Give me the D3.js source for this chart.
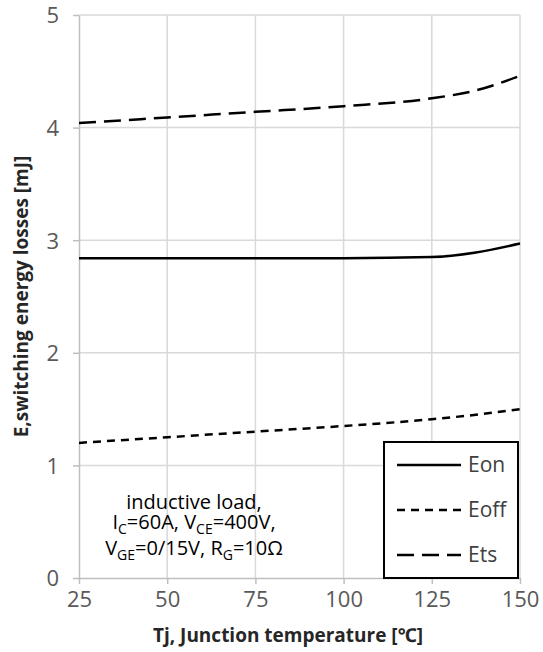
<!DOCTYPE html>
<html>
<head>
<meta charset="utf-8">
<script src="https://cdn.jsdelivr.net/npm/d3@7"></script>
<style>
  body { margin: 0; background: #fff; }
  text { font-family: "Open Sans", "Noto Sans", sans-serif; }
</style>
</head>
<body>
<div id="chart"></div>
<script>
// Data
const temps = [25, 50, 75, 100, 125, 137.5, 150];
const eon = [2.84, 2.84, 2.84, 2.84, 2.85, 2.89, 2.97];
const eoff = [1.20, 1.25, 1.30, 1.35, 1.41, 1.45, 1.50];
const ets = [4.04, 4.09, 4.14, 4.19, 4.26, 4.33, 4.46];
const xTicks = [25, 50, 75, 100, 125, 150];
const yTicks = [0, 1, 2, 3, 4, 5];

const W = 543, H = 652;
const margin = { top: 15, right: 23, bottom: 74, left: 79 };
const width = W - margin.left - margin.right;
const height = H - margin.top - margin.bottom;

const svg = d3.select("#chart").append("svg")
    .attr("width", W).attr("height", H);
const g = svg.append("g")
    .attr("transform", `translate(${margin.left},${margin.top})`);

const x = d3.scaleLinear().domain([25, 150]).range([0, width]);
const y = d3.scaleLinear().domain([0, 5]).range([height, 0]);

// Grid lines
g.append("g").selectAll("line")
    .data(xTicks.slice(1))
    .join("line")
    .attr("x1", d => x(d)).attr("x2", d => x(d))
    .attr("y1", 0).attr("y2", height)
    .attr("stroke", "#d9d9d9").attr("stroke-width", 1.5);
g.append("g").selectAll("line")
    .data(yTicks.slice(1))
    .join("line")
    .attr("x1", 0).attr("x2", width)
    .attr("y1", d => y(d)).attr("y2", d => y(d))
    .attr("stroke", "#d9d9d9").attr("stroke-width", 1.5);

// Axes
const xAxis = g.append("g")
    .attr("transform", `translate(0,${height})`)
    .call(d3.axisBottom(x).tickValues(xTicks).tickFormat(d3.format("d"))
        .tickSize(6).tickSizeOuter(0).tickPadding(7));
const yAxis = g.append("g")
    .call(d3.axisLeft(y).tickValues(yTicks).tickFormat(d3.format("d"))
        .tickSize(6).tickSizeOuter(0).tickPadding(14));
[xAxis, yAxis].forEach(a => {
    a.select(".domain").attr("stroke", "#bfbfbf").attr("stroke-width", 1.5);
    a.selectAll(".tick line").attr("stroke", "#bfbfbf").attr("stroke-width", 1.5);
    a.selectAll(".tick text")
        .attr("fill", "#595959")
        .style("font-size", "22px")
        .style("font-family", "'Open Sans', sans-serif");
});
yAxis.selectAll(".tick text").attr("dy", "0.36em");

// Series
const line = d3.line()
    .x((d, i) => x(temps[i]))
    .y(d => y(d))
    .curve(d3.curveMonotoneX);

const series = [
    { name: "Eon", values: eon, dash: null },
    { name: "Eoff", values: eoff, dash: "8,6" },
    { name: "Ets", values: ets, dash: "17,8" }
];

g.selectAll("path.series")
    .data(series)
    .join("path")
    .attr("class", "series")
    .attr("d", d => line(d.values))
    .attr("fill", "none")
    .attr("stroke", "#000")
    .attr("stroke-width", 2.5)
    .attr("stroke-dasharray", d => d.dash);

// Legend
const legend = svg.append("g").attr("transform", "translate(384,442)");
legend.append("rect")
    .attr("width", 134).attr("height", 136)
    .attr("fill", "#fff").attr("stroke", "#000").attr("stroke-width", 2);
series.forEach((s, i) => {
    const ly = 23 + i * 45;
    legend.append("line")
        .attr("x1", 13).attr("x2", 77)
        .attr("y1", ly).attr("y2", ly)
        .attr("stroke", "#000").attr("stroke-width", 2.5)
        .attr("stroke-dasharray", s.dash);
    legend.append("text")
        .attr("x", 84).attr("y", ly).attr("dy", "0.35em")
        .attr("fill", "#404040")
        .style("font-size", "21px")
        .text(s.name);
});

// Annotation
const ann = svg.append("text")
    .attr("text-anchor", "middle")
    .attr("fill", "#000")
    .style("font-size", "20px");
ann.append("tspan").attr("x", 194).attr("y", 509).text("inductive load,");
const l2 = ann.append("tspan").attr("x", 194).attr("y", 534);
const l3 = ann.append("tspan").attr("x", 194).attr("y", 560);
function sub(parent, main, s) {
    parent.append("tspan").attr("dy", parent.selectAll("tspan").size() ? -5 : 0).text(main);
    parent.append("tspan").attr("dy", 5).style("font-size", "14px").text(s);
}
sub(l2, "I", "C");
sub(l2, "=60A, V", "CE");
l2.append("tspan").attr("dy", -5).text("=400V,");
sub(l3, "V", "GE");
sub(l3, "=0/15V, R", "G");
l3.append("tspan").attr("dy", -5).text("=10Ω");

// Axis titles
svg.append("text")
    .attr("x", 288).attr("y", 642)
    .attr("text-anchor", "middle")
    .attr("fill", "#262626")
    .style("font-size", "19px").style("font-weight", "bold")
    .text("Tj, Junction temperature [℃]");
svg.append("text")
    .attr("transform", `translate(28,${margin.top + height / 2}) rotate(-90)`)
    .attr("text-anchor", "middle")
    .attr("fill", "#262626")
    .style("font-size", "19px").style("font-weight", "bold")
    .text("E,switching energy losses [mJ]");
</script>
</body>
</html>
